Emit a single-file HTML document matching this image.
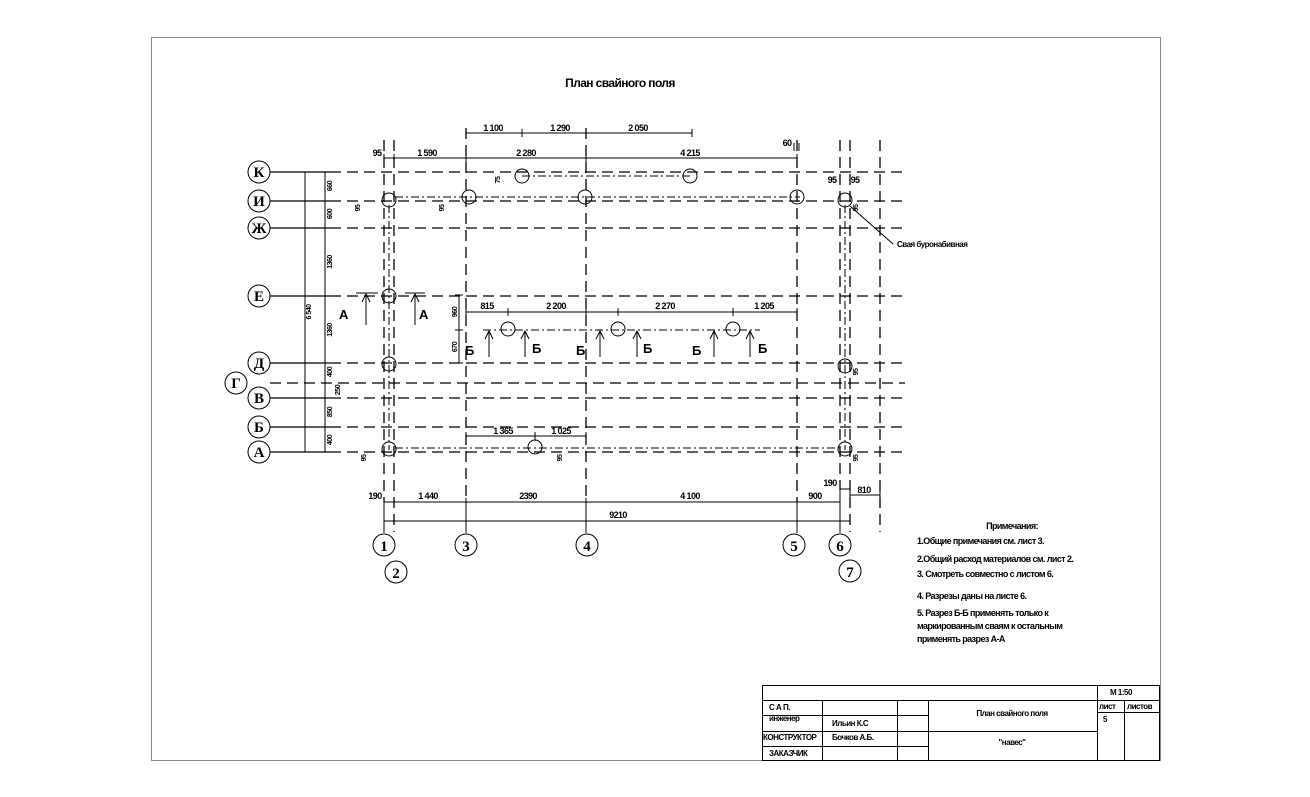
<!DOCTYPE html>
<html><head><meta charset="utf-8"><style>
html,body{margin:0;padding:0;background:#fff;}
svg{display:block;}
text{font-family:"Liberation Sans","DejaVu Sans",sans-serif;fill:#000;}
.d{font-size:9px;font-weight:bold;letter-spacing:-0.6px;}
.s{font-size:7px;font-weight:bold;letter-spacing:-0.5px;}
text.ax, .ax text{font-family:"Liberation Serif","DejaVu Serif",serif;font-size:15px;font-weight:bold;}
.n{font-size:9px;font-weight:bold;letter-spacing:-0.6px;}
.big{font-size:13px;font-weight:bold;}
</style></head><body>
<svg width="1310" height="797" viewBox="0 0 1310 797" xmlns="http://www.w3.org/2000/svg">
<rect x="151.5" y="37.5" width="1009" height="723" fill="none" stroke="#888" stroke-width="1"/>
<text x="620" y="87" text-anchor="middle" style="font-size:12px;font-weight:bold;letter-spacing:-0.6px">План свайного поля</text>

<g stroke="#000" stroke-width="1.3" fill="none">
<line x1="270" y1="172" x2="330" y2="172"/>
<line x1="270" y1="201" x2="330" y2="201"/>
<line x1="270" y1="228" x2="330" y2="228"/>
<line x1="270" y1="296" x2="330" y2="296"/>
<line x1="270" y1="363" x2="330" y2="363"/>
<line x1="270" y1="398" x2="330" y2="398"/>
<line x1="270" y1="427" x2="330" y2="427"/>
<line x1="270" y1="452" x2="330" y2="452"/>
</g>
<g stroke="#000" stroke-width="1.3" fill="none" stroke-dasharray="11,6">
<line x1="330" y1="172" x2="905" y2="172"/>
<line x1="330" y1="201" x2="905" y2="201"/>
<line x1="330" y1="228" x2="905" y2="228"/>
<line x1="330" y1="296" x2="905" y2="296"/>
<line x1="330" y1="363" x2="905" y2="363"/>
<line x1="270" y1="383" x2="905" y2="383"/>
<line x1="330" y1="398" x2="905" y2="398"/>
<line x1="330" y1="427" x2="905" y2="427"/>
<line x1="330" y1="452" x2="905" y2="452"/>
<line x1="384" y1="140" x2="384" y2="502"/>
<line x1="394" y1="140" x2="394" y2="532"/>
<line x1="466" y1="128" x2="466" y2="502"/>
<line x1="586" y1="128" x2="586" y2="502"/>
<line x1="797" y1="140" x2="797" y2="502"/>
<line x1="840" y1="140" x2="840" y2="490"/>
<line x1="850" y1="140" x2="850" y2="532"/>
<line x1="880" y1="140" x2="880" y2="532"/>
</g>
<g stroke="#000" stroke-width="1" fill="none" stroke-dasharray="8,3,2,3">
<line x1="389" y1="205" x2="389" y2="450"/>
<line x1="845" y1="205" x2="845" y2="450"/>
<line x1="522" y1="176" x2="690" y2="176"/>
<line x1="395" y1="197" x2="800" y2="197"/>
<line x1="483" y1="330" x2="760" y2="330"/>
<line x1="395" y1="448" x2="840" y2="448"/>
</g>
<g stroke="#000" stroke-width="1" fill="none">
<line x1="384" y1="502" x2="384" y2="533"/>
<line x1="466" y1="502" x2="466" y2="533"/>
<line x1="586" y1="502" x2="586" y2="533"/>
<line x1="797" y1="502" x2="797" y2="533"/>
<line x1="840" y1="490" x2="840" y2="533"/>
<line x1="305" y1="172" x2="305" y2="452"/>
<line x1="325" y1="172" x2="325" y2="452"/>
<line x1="466" y1="133" x2="692" y2="133"/>
<line x1="384" y1="158" x2="797" y2="158"/>
<line x1="384" y1="502" x2="840" y2="502"/>
<line x1="384" y1="521" x2="850" y2="521"/>
<line x1="850" y1="495" x2="880" y2="495"/>
<line x1="840" y1="489" x2="850" y2="489"/>
<line x1="466" y1="312" x2="797" y2="312"/>
<line x1="459" y1="295" x2="459" y2="363"/>
<line x1="466" y1="436" x2="586" y2="436"/>
<circle cx="389" cy="200" r="7"/><circle cx="469" cy="197" r="7"/><circle cx="585" cy="197" r="7"/>
<circle cx="797" cy="197" r="7"/><circle cx="845" cy="200" r="7"/><circle cx="522" cy="176" r="7"/>
<circle cx="690" cy="176" r="7"/><circle cx="389" cy="296" r="7"/><circle cx="508" cy="329" r="7"/>
<circle cx="618" cy="329" r="7"/><circle cx="733" cy="329" r="7"/><circle cx="389" cy="364" r="7"/>
<circle cx="845" cy="366" r="7"/><circle cx="535" cy="447" r="7"/><circle cx="389" cy="449" r="7"/>
<circle cx="845" cy="449" r="7"/>
<circle cx="259" cy="172" r="11"/><circle cx="259" cy="201" r="11"/><circle cx="259" cy="228" r="11"/>
<circle cx="259" cy="296" r="11"/><circle cx="259" cy="363" r="11"/><circle cx="236" cy="383" r="11"/>
<circle cx="259" cy="398" r="11"/><circle cx="259" cy="427" r="11"/><circle cx="259" cy="452" r="11"/>
<circle cx="384" cy="545" r="11"/><circle cx="396" cy="572" r="11"/><circle cx="466" cy="545" r="11"/>
<circle cx="587" cy="545" r="11"/><circle cx="794" cy="545" r="11"/><circle cx="840" cy="545" r="11"/>
<circle cx="850" cy="571" r="11"/>
<line x1="356" y1="293" x2="378" y2="293"/><line x1="405" y1="293" x2="425" y2="293"/>
<line x1="366" y1="325" x2="366" y2="294"/><line x1="415" y1="325" x2="415" y2="294"/>
<line x1="489" y1="357" x2="489" y2="331"/><line x1="525" y1="357" x2="525" y2="331"/>
<line x1="600" y1="357" x2="600" y2="331"/><line x1="637" y1="357" x2="637" y2="331"/>
<line x1="714" y1="357" x2="714" y2="331"/><line x1="750" y1="357" x2="750" y2="331"/>
<path d="M362,302 L366,294 L370,302 M411,302 L415,294 L419,302 M485,339 L489,331 L493,339 M521,339 L525,331 L529,339 M596,339 L600,331 L604,339 M633,339 L637,331 L641,339 M710,339 L714,331 L718,339 M746,339 L750,331 L754,339"/>
<line x1="850" y1="206" x2="893" y2="244"/>
<rect x="762.5" y="685.5" width="397" height="75"/>
<line x1="762" y1="700.5" x2="1160" y2="700.5"/>
<line x1="1097.5" y1="685" x2="1097.5" y2="760"/>
<line x1="1097" y1="712.5" x2="1160" y2="712.5"/>
<line x1="1124.5" y1="700" x2="1124.5" y2="760"/>
<line x1="822.5" y1="700" x2="822.5" y2="760"/>
<line x1="897.5" y1="700" x2="897.5" y2="760"/>
<line x1="928.5" y1="700" x2="928.5" y2="760"/>
<line x1="762" y1="715.5" x2="928" y2="715.5"/>
<line x1="762" y1="731.5" x2="1097" y2="731.5"/>
<line x1="762" y1="746.5" x2="928" y2="746.5"/>
</g>
<g stroke="#000" stroke-width="1">
<path d="M466,129v8M522,129v8M586,129v8M692,129v8M384,154v8M394,154v8M466,154v8M586,154v8M797,154v8M794,143v8M799,143v8
M384,498v8M394,498v8M466,498v8M586,498v8M797,498v8M840,498v8M384,517v8M850,517v8M850,491v8M880,491v8
M466,308v8M508,308v8M586,308v8M618,308v8M733,308v8M797,308v8M455,330h8M455,295h8M455,363h8
M466,432v8M535,432v8M586,432v8M301,172h8M301,452h8M321,172h8M321,201h8M321,228h8M321,296h8M321,363h8M321,383h8M321,398h8M321,427h8M321,452h8"/>
</g>
<g class="ax" text-anchor="middle">
<text x="259" y="177">К</text><text x="259" y="206">И</text><text x="259" y="233">Ж</text>
<text x="259" y="301">Е</text><text x="259" y="368">Д</text><text x="236" y="388">Г</text>
<text x="259" y="403">В</text><text x="259" y="432">Б</text><text x="259" y="457">А</text>
<text x="384" y="551">1</text><text x="396" y="578">2</text><text x="466" y="551">3</text>
<text x="587" y="551">4</text><text x="794" y="551">5</text><text x="840" y="551">6</text><text x="850" y="577">7</text>
</g>
<g class="big">
<text x="339" y="319">А</text><text x="419" y="319">А</text>
<text x="465" y="355">Б</text><text x="532" y="353">Б</text><text x="576" y="355">Б</text>
<text x="643" y="353">Б</text><text x="692" y="355">Б</text><text x="758" y="353">Б</text>
</g>
<g class="d" text-anchor="middle">
<text x="493" y="131">1 100</text><text x="560" y="131">1 290</text><text x="638" y="131">2 050</text>
<text x="377" y="156">95</text><text x="427" y="156">1 590</text><text x="526" y="156">2 280</text><text x="690" y="156">4 215</text>
<text x="787" y="146">60</text>
<text x="375" y="499">190</text><text x="428" y="499">1 440</text><text x="528" y="499">2390</text><text x="690" y="499">4 100</text><text x="815" y="499">900</text>
<text x="618" y="518">9210</text><text x="830" y="486">190</text><text x="864" y="493">810</text>
<text x="487" y="309">815</text><text x="556" y="309">2 200</text><text x="665" y="309">2 270</text><text x="764" y="309">1 205</text>
<text x="503" y="434">1 365</text><text x="561" y="434">1 025</text>
<text x="832" y="183">95</text><text x="855" y="183">95</text>
</g>
<g class="s">
<text transform="translate(332,186) rotate(-90)" text-anchor="middle">660</text>
<text transform="translate(332,214) rotate(-90)" text-anchor="middle">600</text>
<text transform="translate(332,262) rotate(-90)" text-anchor="middle">1360</text>
<text transform="translate(311,312) rotate(-90)" text-anchor="middle">6 540</text>
<text transform="translate(332,330) rotate(-90)" text-anchor="middle">1360</text>
<text transform="translate(332,372) rotate(-90)" text-anchor="middle">400</text>
<text transform="translate(340,390) rotate(-90)" text-anchor="middle">250</text>
<text transform="translate(332,412) rotate(-90)" text-anchor="middle">850</text>
<text transform="translate(332,440) rotate(-90)" text-anchor="middle">400</text>
<text transform="translate(457,312) rotate(-90)" text-anchor="middle">960</text>
<text transform="translate(457,347) rotate(-90)" text-anchor="middle">670</text>
<text transform="translate(360,208) rotate(-90)" text-anchor="middle">95</text>
<text transform="translate(444,208) rotate(-90)" text-anchor="middle">95</text>
<text transform="translate(500,180) rotate(-90)" text-anchor="middle">75</text>
<text transform="translate(366,458) rotate(-90)" text-anchor="middle">95</text>
<text transform="translate(562,458) rotate(-90)" text-anchor="middle">95</text>
<text transform="translate(858,208) rotate(-90)" text-anchor="middle">95</text>
<text transform="translate(858,372) rotate(-90)" text-anchor="middle">95</text>
<text transform="translate(858,458) rotate(-90)" text-anchor="middle">95</text>
</g>
<text x="897" y="247" class="s" style="font-size:8px">Свая буронабивная</text>
<g class="n">
<text x="1012" y="529" text-anchor="middle">Примечания:</text>
<text x="917" y="544">1.Общие примечания см. лист 3.</text>
<text x="917" y="562">2.Общий расход материалов см. лист 2.</text>
<text x="917" y="577">3. Смотреть совместно с листом 6.</text>
<text x="917" y="599">4. Разрезы даны на  листе 6.</text>
<text x="917" y="616">5. Разрез Б-Б применять только к</text>
<text x="917" y="629">маркированным сваям к остальным</text>
<text x="917" y="642">применять разрез А-А</text>
</g>
<g class="s" style="font-size:8px">
<text x="1110" y="695">М 1:50</text>
<text x="1099" y="709">лист</text><text x="1127" y="709">листов</text>
<text x="1103" y="722">5</text>
<text x="769" y="710">С А П.</text>
<text x="769" y="721">инженер</text>
<text x="832" y="726">Ильин К.С</text>
<text x="763" y="740">КОНСТРУКТОР</text>
<text x="832" y="740">Бочков А.Б.</text>
<text x="769" y="756">ЗАКАЗЧИК</text>
<text x="1012" y="716" text-anchor="middle">План свайного поля</text>
<text x="1012" y="745" text-anchor="middle">"навес"</text>
</g>
</svg>
</body></html>
